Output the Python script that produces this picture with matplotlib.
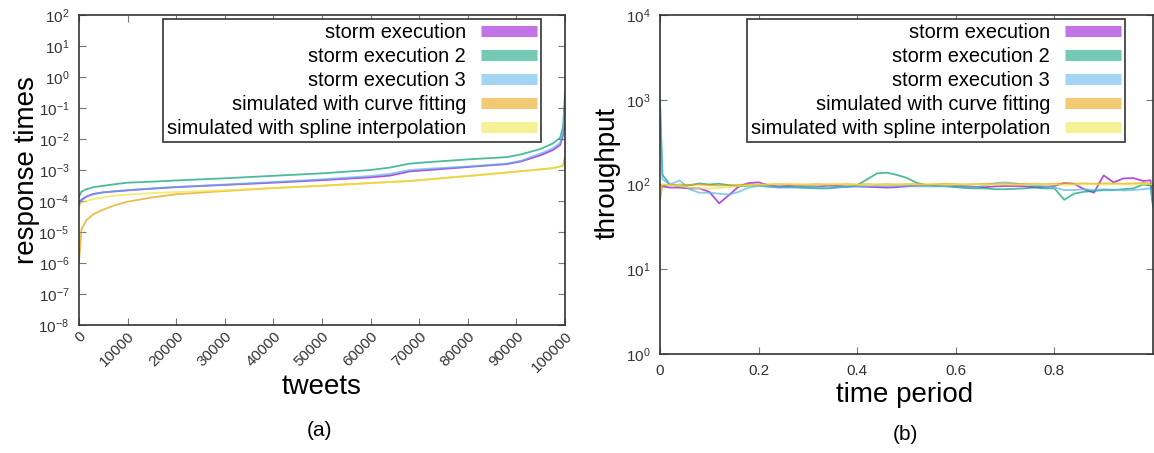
import math
import matplotlib
matplotlib.use('Agg')
import matplotlib.pyplot as plt
from matplotlib.ticker import FixedLocator, FuncFormatter, NullLocator

plt.rcParams['font.family'] = ['Liberation Sans', 'DejaVu Sans']
plt.rcParams['mathtext.fontset'] = 'custom'
plt.rcParams['mathtext.rm'] = 'Liberation Sans'
plt.rcParams['mathtext.it'] = 'Liberation Sans:italic'
plt.rcParams['mathtext.bf'] = 'Liberation Sans:bold'

# --- (a) response times per tweet ---
tweets = [0, 500, 1500, 3000, 5000, 7500, 10000, 15000, 20000, 30000, 40000,
          50000, 60000, 64000, 68000, 72000, 80000, 88000, 91000, 95000,
          97500, 99000, 99600, 100000]
resp_storm = [8.5e-5, 1.1e-4, 1.4e-4, 1.7e-4, 1.9e-4, 2.05e-4, 2.2e-4, 2.5e-4,
              2.8e-4, 3.3e-4, 3.9e-4, 4.7e-4, 5.8e-4, 6.6e-4, 9.0e-4, 1.0e-3,
              1.25e-3, 1.55e-3, 1.9e-3, 3.0e-3, 4.4e-3, 6.4e-3, 1.3e-2, 3.0e-2]
resp_storm2 = [1.4e-4, 2.0e-4, 2.4e-4, 2.8e-4, 3.1e-4, 3.5e-4, 3.9e-4, 4.2e-4,
               4.6e-4, 5.4e-4, 6.5e-4, 7.8e-4, 1.0e-3, 1.2e-3, 1.6e-3, 1.8e-3,
               2.2e-3, 2.6e-3, 3.2e-3, 4.8e-3, 7.2e-3, 1.1e-2, 2.5e-2, 3.0e-1]
resp_storm3 = [7.0e-5, 1.0e-4, 1.35e-4, 1.65e-4, 1.9e-4, 2.1e-4, 2.25e-4, 2.55e-4,
               2.85e-4, 3.4e-4, 4.1e-4, 5.0e-4, 6.4e-4, 7.5e-4, 1.0e-3, 1.1e-3,
               1.3e-3, 1.6e-3, 2.0e-3, 3.4e-3, 5.0e-3, 7.5e-3, 1.6e-2, 1.0e-1]
resp_curve = [1.0e-6, 1.2e-5, 2.4e-5, 3.8e-5, 5.3e-5, 7.4e-5, 9.5e-5, 1.3e-4,
              1.65e-4, 2.1e-4, 2.6e-4, 3.1e-4, 3.8e-4, 4.1e-4, 4.4e-4, 5.0e-4,
              6.4e-4, 8.3e-4, 9.2e-4, 1.05e-3, 1.15e-3, 1.3e-3, 1.4e-3, 2.7e-3]
resp_spline = [6.6e-5, 8.5e-5, 1.0e-4, 1.15e-4, 1.3e-4, 1.5e-4, 1.6e-4, 1.8e-4,
               1.95e-4, 2.2e-4, 2.65e-4, 3.1e-4, 3.8e-4, 4.1e-4, 4.4e-4, 5.0e-4,
               6.4e-4, 8.2e-4, 9.1e-4, 1.04e-3, 1.15e-3, 1.3e-3, 1.4e-3, 1.6e-3]

# --- (b) throughput over the time period ---
period = [0, 0.005, 0.02, 0.04, 0.06, 0.08, 0.10, 0.12, 0.14, 0.16, 0.18, 0.20,
          0.22, 0.24, 0.26, 0.28, 0.30, 0.32, 0.34, 0.36, 0.38, 0.40, 0.42, 0.44,
          0.46, 0.48, 0.50, 0.52, 0.54, 0.56, 0.58, 0.60, 0.62, 0.64, 0.66, 0.68,
          0.70, 0.72, 0.74, 0.76, 0.78, 0.80, 0.82, 0.84, 0.86, 0.88, 0.90, 0.92,
          0.94, 0.96, 0.98, 0.995, 1.0]
thr_storm = [100, 95, 92, 92, 90, 90, 82, 60, 75, 95, 104, 106, 98, 95, 96, 95,
             95, 95, 97, 96, 95, 95, 94, 93, 92, 93, 95, 97, 98, 98, 97, 96, 95,
             94, 93, 95, 96, 96, 95, 93, 94, 96, 104, 102, 88, 80, 128, 106, 118,
             119, 110, 112, 60]
thr_storm2 = [900, 130, 100, 95, 98, 103, 100, 102, 98, 95, 97, 98, 95, 92, 93,
              92, 91, 90, 90, 92, 94, 98, 115, 135, 138, 130, 120, 105, 98, 96,
              95, 93, 91, 90, 90, 88, 88, 89, 90, 92, 90, 90, 66, 78, 82, 84, 86,
              86, 88, 90, 100, 98, 55]
thr_storm3 = [1000, 115, 100, 112, 88, 80, 80, 78, 76, 82, 92, 96, 94, 93, 92,
              94, 95, 93, 92, 93, 94, 95, 95, 96, 96, 96, 96, 95, 95, 95, 96, 97,
              95, 93, 98, 104, 106, 103, 100, 98, 95, 92, 86, 86, 88, 86, 88, 87,
              85, 86, 88, 90, 60]
thr_curve = [65, 100, 98, 100, 99, 100, 98, 97, 98, 99, 100, 99, 100, 101, 100,
             99, 100, 101, 100, 100, 101, 100, 101, 100, 101, 100, 101, 101, 100,
             101, 102, 101, 100, 101, 102, 101, 102, 101, 102, 102, 101, 102, 103,
             102, 103, 102, 103, 103, 102, 103, 104, 103, 100]
thr_spline = [95, 100, 98, 96, 92, 90, 90, 91, 93, 96, 98, 100, 100, 101, 102,
              101, 100, 99, 100, 101, 100, 99, 100, 100, 99, 100, 101, 100, 100,
              100, 99, 100, 101, 100, 99, 100, 100, 99, 100, 101, 100, 100, 99,
              100, 101, 100, 100, 101, 100, 100, 101, 100, 100]

labels = ['storm execution', 'storm execution 2', 'storm execution 3',
          'simulated with curve fitting', 'simulated with spline interpolation']
colors = ['#9400d3', '#009e73', '#56b4e9', '#e69f00', '#f0e442']

W, H = 1154, 453


def fx(px):
    return px / W


def fy(py):
    return 1 - py / H


def pow10(v, pos):
    return r'$\mathregular{10^{%d}}$' % round(math.log10(v))


def style_axes(ax):
    for s in ax.spines.values():
        s.set_color('#333333')
        s.set_linewidth(1.2)
    ax.tick_params(which='major', direction='in', length=5, width=0.8,
                   top=True, right=True, color='#777777',
                   labelcolor='#333333', pad=7)
    ax.yaxis.set_minor_locator(NullLocator())
    ax.yaxis.set_major_formatter(FuncFormatter(pow10))
    for t in ax.get_yticklabels():
        t.set_fontsize(11)


def add_legend(ax, lines, right_px):
    leg = ax.legend(lines, labels, loc='upper right', markerfirst=False,
                    bbox_to_anchor=(fx(right_px), fy(19)),
                    bbox_transform=ax.figure.transFigure,
                    fontsize=14.4, handlelength=2.8, handletextpad=0.75,
                    labelspacing=0.25, borderpad=0.2, borderaxespad=0,
                    fancybox=False, framealpha=1, edgecolor='#333333')
    leg.get_frame().set_linewidth(1.2)
    for h in leg.legend_handles:
        h.set_linewidth(8)
        h.set_alpha(0.55)
        h.set_solid_capstyle('butt')
    return leg


fig = plt.figure(figsize=(W / 100, H / 100), dpi=100)

# (a)
ax1 = fig.add_axes([fx(79), fy(325), fx(565 - 79), (325 - 15) / H])
series_a = [resp_storm, resp_storm2, resp_storm3, resp_curve, resp_spline]
lines = []
for ys, c in zip(series_a, colors):
    ln, = ax1.plot(tweets, ys, color=c, lw=1.3, alpha=0.7)
    lines.append(ln)
ax1.set_yscale('log')
ax1.set_xlim(0, 100000)
ax1.set_ylim(1e-8, 1e2)
ax1.yaxis.set_major_locator(FixedLocator([10.0 ** k for k in range(-8, 3)]))
ax1.set_xticks(range(0, 100001, 10000))
style_axes(ax1)
ax1.tick_params(axis='x', pad=3)
for t in ax1.get_xticklabels():
    t.set_rotation(45)
    t.set_ha('right')
    t.set_va('top')
    t.set_rotation_mode('anchor')
    t.set_fontsize(11)
ax1.set_ylabel('response times', fontsize=20)
ax1.yaxis.set_label_coords(fx(40), fy(170), transform=fig.transFigure)
ax1.set_xlabel('tweets', fontsize=20)
ax1.xaxis.set_label_coords(fx(322), fy(387), transform=fig.transFigure)
ax1.xaxis.label.set_va('center')
add_legend(ax1, lines, 541)

# (b)
ax2 = fig.add_axes([fx(660), fy(354), fx(1153 - 660), (354 - 15) / H])
series_b = [thr_storm, thr_storm2, thr_storm3, thr_curve, thr_spline]
lines = []
for ys, c in zip(series_b, colors):
    ln, = ax2.plot(period, ys, color=c, lw=1.3, alpha=0.7)
    lines.append(ln)
ax2.set_yscale('log')
ax2.set_xlim(0, 1)
ax2.set_ylim(1, 1e4)
ax2.yaxis.set_major_locator(FixedLocator([1, 10, 100, 1000, 10000]))
ax2.set_xticks([0, 0.2, 0.4, 0.6, 0.8])
ax2.xaxis.set_major_formatter(FuncFormatter(lambda v, p: '%g' % v))
style_axes(ax2)
for t in ax2.get_xticklabels():
    t.set_fontsize(11)
ax2.set_ylabel('throughput', fontsize=20)
ax2.yaxis.set_label_coords(fx(621), fy(173), transform=fig.transFigure)
ax2.set_xlabel('time period', fontsize=20)
ax2.xaxis.set_label_coords(fx(905), fy(395), transform=fig.transFigure)
ax2.xaxis.label.set_va('center')
add_legend(ax2, lines, 1125)

fig.text(fx(320), fy(430), '(a)', fontsize=15, ha='center', va='center')
fig.text(fx(905), fy(434), '(b)', fontsize=15, ha='center', va='center')

fig.savefig('out.png', dpi=100)
